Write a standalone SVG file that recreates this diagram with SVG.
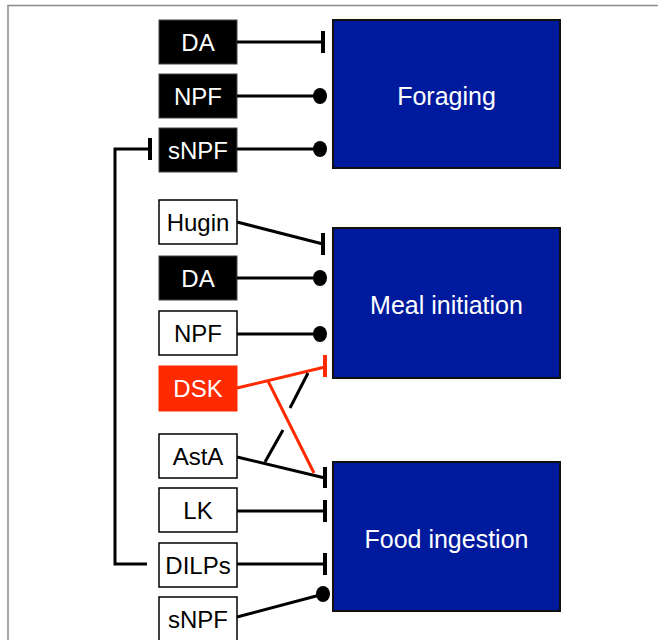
<svg xmlns="http://www.w3.org/2000/svg" width="658" height="640" viewBox="0 0 658 640">
<defs>
<style>
.frame{fill:none;stroke:#8a8a8a;stroke-width:1.5}
.blk rect{fill:#000;stroke:#444;stroke-width:1}
.wht rect{fill:#fff;stroke:#000;stroke-width:1.5}
.red rect{fill:#ff2a00;stroke:#ff2a00;stroke-width:1}
.tgt rect{fill:#001a9e;stroke:#111;stroke-width:2}
text{font-family:"Liberation Sans",Arial,sans-serif;font-size:24px;text-anchor:middle}
.tgt text{font-size:25px}
.blk text,.red text,.tgt text{fill:#fff}
.wht text{fill:#000}
.c line,.c polyline{stroke:#000;stroke-width:3;fill:none}
.c ellipse{fill:#000}
.c .r{stroke:#ff2a00}
.c .bar{stroke-width:4}
</style>
</defs>
<rect width="658" height="640" fill="#fff"/>
<polyline class="frame" points="8,642 8,5.5 660,5.5"/>

<g id="foraging" class="tgt"><rect x="333" y="20" width="227" height="148"/><text x="446.5" y="105">Foraging</text></g>
<g id="meal-initiation" class="tgt"><rect x="333" y="228" width="227" height="150"/><text x="446.5" y="314">Meal initiation</text></g>
<g id="food-ingestion" class="tgt"><rect x="333" y="462" width="227" height="149"/><text x="446.5" y="548">Food ingestion</text></g>

<g id="da1" class="blk"><rect x="159" y="20" width="78" height="44"/><text x="198" y="51">DA</text></g>
<g id="npf1" class="blk"><rect x="159" y="74" width="78" height="44"/><text x="198" y="105">NPF</text></g>
<g id="snpf1" class="blk"><rect x="159" y="128" width="78" height="44"/><text x="198" y="159">sNPF</text></g>

<g id="hugin" class="wht"><rect x="159" y="200" width="78" height="44"/><text x="198" y="231">Hugin</text></g>
<g id="da2" class="blk"><rect x="159" y="256" width="78" height="44"/><text x="198" y="287">DA</text></g>
<g id="npf2" class="wht"><rect x="159" y="311" width="78" height="44"/><text x="198" y="342">NPF</text></g>
<g id="dsk" class="red"><rect x="159" y="366" width="78" height="45"/><text x="198" y="397">DSK</text></g>

<g id="asta" class="wht"><rect x="159" y="434" width="78" height="44"/><text x="198" y="465">AstA</text></g>
<g id="lk" class="wht"><rect x="159" y="488" width="78" height="44"/><text x="198" y="519">LK</text></g>
<g id="dilps" class="wht"><rect x="159" y="543" width="78" height="44"/><text x="198" y="574">DILPs</text></g>
<g id="snpf2" class="wht"><rect x="159" y="597" width="78" height="44"/><text x="198" y="628">sNPF</text></g>

<g id="connectors" class="c">
<line x1="237" y1="42" x2="323" y2="42"/><line class="bar" x1="323" y1="31" x2="323" y2="53"/>
<line x1="237" y1="96" x2="318" y2="96"/><ellipse cx="320" cy="96" rx="7" ry="8"/>
<line x1="237" y1="149" x2="318" y2="149"/><ellipse cx="320" cy="149" rx="7" ry="8"/>
<polyline points="147,564 115,564 115,149 150,149"/><line class="bar" x1="150" y1="138" x2="150" y2="160"/>
<line x1="237" y1="222" x2="323" y2="244"/><line class="bar" x1="323" y1="233" x2="323" y2="255"/>
<line x1="237" y1="278" x2="318" y2="278"/><ellipse cx="320" cy="278" rx="7" ry="8"/>
<line x1="237" y1="334" x2="318" y2="334"/><ellipse cx="320" cy="334" rx="7" ry="8"/>
<line class="r" x1="237" y1="388" x2="325" y2="367"/><line class="r bar" x1="325" y1="355" x2="325" y2="377"/>
<line class="r" x1="268" y1="381" x2="314" y2="473"/>
<line x1="237" y1="457" x2="325" y2="478"/><line class="bar" x1="325" y1="467" x2="325" y2="488"/>
<line x1="265" y1="462" x2="283" y2="430"/><line x1="290" y1="408" x2="308" y2="373"/>
<line x1="237" y1="511" x2="325" y2="511"/><line class="bar" x1="325" y1="500" x2="325" y2="522"/>
<line x1="237" y1="564" x2="325" y2="564"/><line class="bar" x1="325" y1="553" x2="325" y2="575"/>
<line x1="237" y1="617" x2="320" y2="595"/><ellipse cx="323" cy="594" rx="7" ry="8"/>
</g>
</svg>
